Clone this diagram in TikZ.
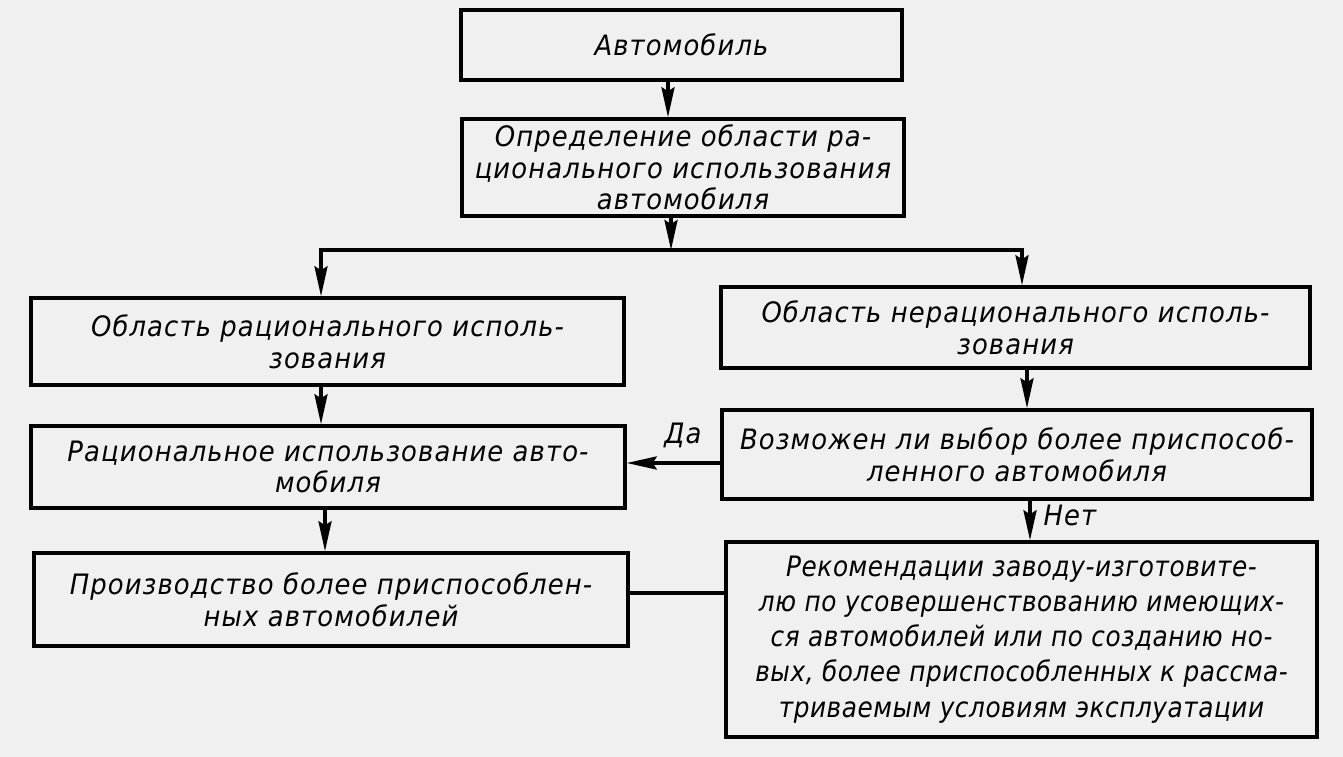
\documentclass[tikz,border=0pt]{standalone}
\usepackage{fontspec}
\setmainfont{DejaVu Sans}[FakeStretch=0.92, LetterSpace=4]
\newfontfamily\tightfont{DejaVu Sans}[FakeStretch=0.88, LetterSpace=2]
\usetikzlibrary{arrows.meta}
\begin{document}
\begin{tikzpicture}[x=0.02cm,y=-0.02cm,
  box/.style={draw, line width=2pt, inner sep=0pt, align=center,
    font=\itshape\fontsize{16}{18}\selectfont},
  arr/.style={line width=2pt, -{Stealth[length=0.6cm,width=0.26cm,inset=0.08cm]}},
  conn/.style={line width=2pt},
  lbl/.style={font=\itshape\fontsize{16}{18}\selectfont, inner sep=1pt}]
\fill[black!6] (0,0) rectangle (1343,757);
\useasboundingbox (0,0) rectangle (1343,757);

\node[box, minimum width=8.82cm, minimum height=1.40cm] (b1) at (681.5,45) {Автомобиль};
\node[box, minimum width=8.84cm, minimum height=1.94cm] (b2) at (683,167.5)
  {Определение области ра-\\ционального использования\\автомобиля};
\node[box, minimum width=11.86cm, minimum height=1.74cm] (b3) at (327.5,341.5)
  {Область рационального исполь-\\зования};
\node[box, minimum width=11.78cm, minimum height=1.62cm] (b4) at (1015.5,327.5)
  {Область нерационального исполь-\\зования};
\node[box, minimum width=11.88cm, minimum height=1.64cm] (b5) at (328,467)
  {Рациональное использование авто-\\мобиля};
\node[box, minimum width=11.80cm, minimum height=1.78cm] (b6) at (1017,454.5)
  {Возможен ли выбор более приспособ-\\ленного автомобиля};
\node[box, minimum width=11.88cm, minimum height=1.86cm] (b7) at (331,599.5)
  {Производство более приспособлен-\\ных автомобилей};
\node[box, minimum width=11.82cm, minimum height=3.90cm,
  font=\tightfont\itshape\fontsize{16}{20}\selectfont] (b8) at (1021.5,639.5)
  {Рекомендации заводу-изготовите-\\лю по усовершенствованию имеющих-\\ся автомобилей или по созданию но-\\вых, более приспособленных к рассма-\\триваемым условиям эксплуатации};

\coordinate (jc) at (671,250);
\coordinate (jl) at (321,250);
\coordinate (jr) at (1022,250);
\coordinate (x1) at (668,0);
\coordinate (x5) at (325,0);
\coordinate (x4) at (1027,0);
\coordinate (x6) at (1030,0);
\coordinate (yda) at (0,463);
\coordinate (ypr) at (0,593);

\draw[arr] (b1.south -| x1) -- (b2.north -| x1);
\draw[arr] (b2.south -| jc) -- (jc);
\draw[arr] (jc) -- (jl) -- (b3.north -| jl);
\draw[arr] (jc) -- (jr) -- (b4.north -| jr);
\draw[arr] (b3.south -| jl) -- (b5.north -| jl);
\draw[arr] (b5.south -| x5) -- (b7.north -| x5);
\draw[arr] (b4.south -| x4) -- (b6.north -| x4);
\draw[arr] (b6.south -| x6) -- (b8.north -| x6);
\draw[arr] (b6.west |- yda) -- (b5.east |- yda);
\draw[conn] (b7.east |- ypr) -- (b8.west |- ypr);

\node[lbl] (da) at (683,435) {Да};
\node[lbl] (net) at (1070,515) {Нет};
\end{tikzpicture}
\end{document}
